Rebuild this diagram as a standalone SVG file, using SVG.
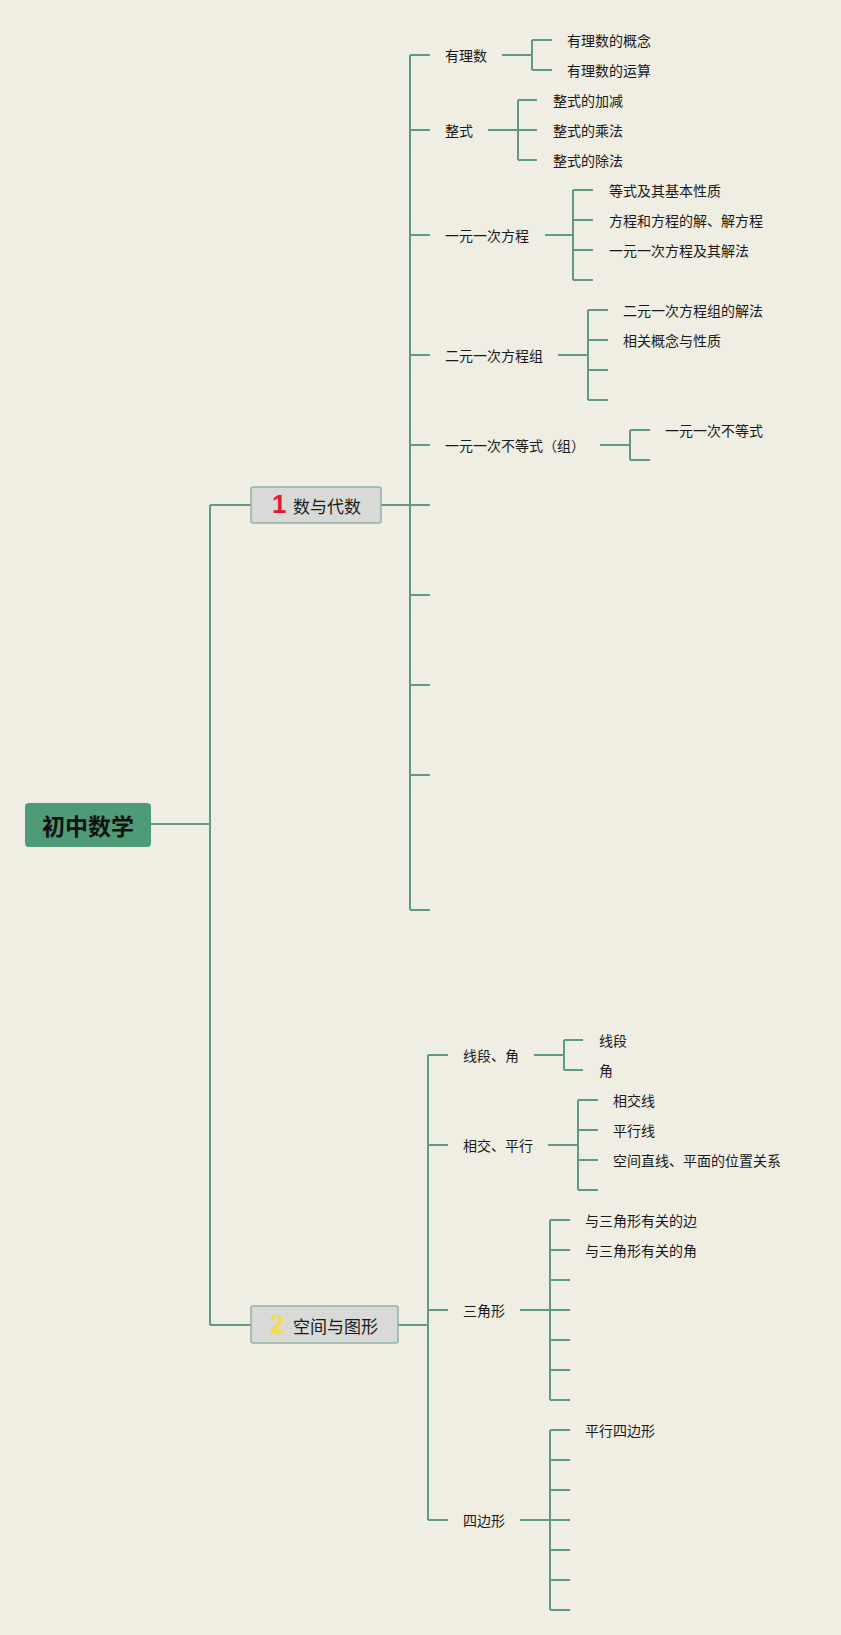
<svg xmlns="http://www.w3.org/2000/svg" width="841" height="1635" viewBox="0 0 841 1635">
<style>
.ln{stroke:#5f9a88;stroke-width:2;fill:none}
.t{font-family:"Noto Sans CJK SC","Noto Sans",sans-serif;font-size:14px;fill:#1a1a1a;dominant-baseline:central}
.l1{fill:#d9dad7;stroke:#8fb3a6;stroke-width:1.5}
.l1t{font-family:"Noto Sans CJK SC","Noto Sans",sans-serif;font-size:17px;fill:#1a1a1a;dominant-baseline:central}
.num{font-family:"Liberation Sans","DejaVu Sans",sans-serif;font-size:26px;font-weight:bold;dominant-baseline:central}
</style>
<rect width="841" height="1635" fill="#f0ede3"/>
<g id="connectors" class="ln">
<path d="M151 824H210M210 505V1325M210 505H251M210 1325H251"/>
<path d="M381 505H430M410 55V910M410 55H430M410 130H430M410 235H430M410 355H430M410 445H430M410 595H430M410 685H430M410 775H430M410 910H430"/>
<path d="M502 55H532M532 40V70M532 40H552M532 70H552"/>
<path d="M488 130H518M518 100V160M518 100H537M518 130H537M518 160H537"/>
<path d="M545 235H573M573 190V280M573 190H593M573 220H593M573 250H593M573 280H593"/>
<path d="M558 355H588M588 310V400M588 310H608M588 340H608M588 370H608M588 400H608"/>
<path d="M600 445H630M630 430V460M630 430H650M630 460H650"/>
<path d="M398 1325H428M428 1055V1520M428 1055H448M428 1145H448M428 1310H448M428 1520H448"/>
<path d="M534 1055H564M564 1040V1070M564 1040H583M564 1070H583"/>
<path d="M548 1145H578M578 1100V1190M578 1100H598M578 1130H598M578 1160H598M578 1190H598"/>
<path d="M520 1310H550M550 1220V1400M550 1220H570M550 1250H570M550 1280H570M550 1310H570M550 1340H570M550 1370H570M550 1400H570"/>
<path d="M520 1520H550M550 1430V1610M550 1430H570M550 1460H570M550 1490H570M550 1520H570M550 1550H570M550 1580H570M550 1610H570"/>
</g>
<g id="root">
<rect x="25" y="803" width="126" height="44" rx="4" fill="#4f9a77"/>
<text x="88" y="825" text-anchor="middle" style="font-family:'Noto Sans CJK SC',sans-serif;font-size:23px;font-weight:bold;fill:#111;dominant-baseline:central">初中数学</text>
</g>
<g id="n1">
<rect class="l1" x="251" y="487" width="130" height="36" rx="2"/>
<text class="num" x="272" y="504" fill="#e01b35">1</text>
<text class="l1t" x="293" y="505">数与代数</text>
</g>
<g id="n2">
<rect class="l1" x="251" y="1306" width="147" height="37" rx="2"/>
<text class="num" x="270" y="1324" fill="#f6dc45">2</text>
<text class="l1t" x="293" y="1325">空间与图形</text>
</g>
<g id="a1"><text class="t" x="445" y="55">有理数</text></g>
<g id="a1a"><text class="t" x="567" y="40">有理数的概念</text></g>
<g id="a1b"><text class="t" x="567" y="70">有理数的运算</text></g>
<g id="a2"><text class="t" x="445" y="130">整式</text></g>
<g id="a2a"><text class="t" x="553" y="100">整式的加减</text></g>
<g id="a2b"><text class="t" x="553" y="130">整式的乘法</text></g>
<g id="a2c"><text class="t" x="553" y="160">整式的除法</text></g>
<g id="a3"><text class="t" x="445" y="235">一元一次方程</text></g>
<g id="a3a"><text class="t" x="609" y="190">等式及其基本性质</text></g>
<g id="a3b"><text class="t" x="609" y="220">方程和方程的解、解方程</text></g>
<g id="a3c"><text class="t" x="609" y="250">一元一次方程及其解法</text></g>
<g id="a4"><text class="t" x="445" y="355">二元一次方程组</text></g>
<g id="a4a"><text class="t" x="623" y="310">二元一次方程组的解法</text></g>
<g id="a4b"><text class="t" x="623" y="340">相关概念与性质</text></g>
<g id="a5"><text class="t" x="445" y="445">一元一次不等式（组）</text></g>
<g id="a5a"><text class="t" x="665" y="430">一元一次不等式</text></g>
<g id="b1"><text class="t" x="463" y="1055">线段、角</text></g>
<g id="b1a"><text class="t" x="599" y="1040">线段</text></g>
<g id="b1b"><text class="t" x="599" y="1070">角</text></g>
<g id="b2"><text class="t" x="463" y="1145">相交、平行</text></g>
<g id="b2a"><text class="t" x="613" y="1100">相交线</text></g>
<g id="b2b"><text class="t" x="613" y="1130">平行线</text></g>
<g id="b2c"><text class="t" x="613" y="1160">空间直线、平面的位置关系</text></g>
<g id="b3"><text class="t" x="463" y="1310">三角形</text></g>
<g id="b3a"><text class="t" x="585" y="1220">与三角形有关的边</text></g>
<g id="b3b"><text class="t" x="585" y="1250">与三角形有关的角</text></g>
<g id="b4"><text class="t" x="463" y="1520">四边形</text></g>
<g id="b4a"><text class="t" x="585" y="1430">平行四边形</text></g>
</svg>
